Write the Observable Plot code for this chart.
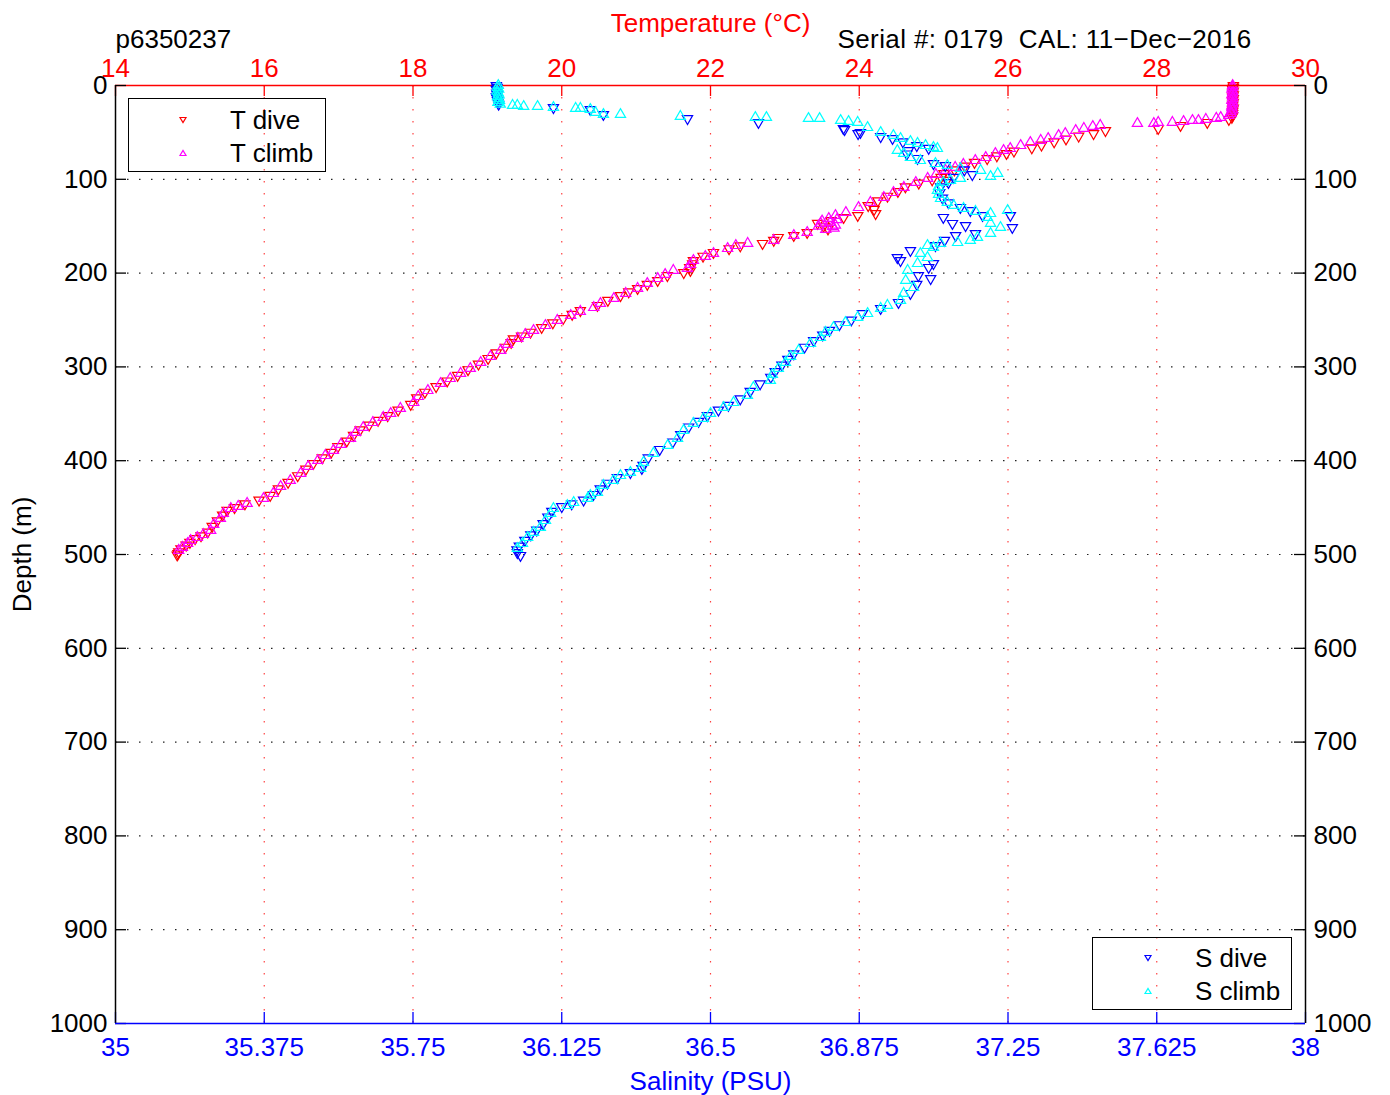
<!DOCTYPE html>
<html>
<head>
<meta charset="utf-8">
<script src="https://cdn.jsdelivr.net/npm/d3@7"></script>
<script src="https://cdn.jsdelivr.net/npm/@observablehq/plot@0.6"></script>
<style>
  html, body { margin: 0; padding: 0; background: #fff; }
  #wrap { position: relative; width: 1390px; height: 1095px; font-family: "Liberation Sans", Arial, sans-serif; }
  #wrap svg { position: absolute; left: 0; top: 0; }
  .legend { position: absolute; border: 1.5px solid #000; box-sizing: border-box; }
  .legend .lab { position: absolute; font-size: 26px; line-height: 30px; color: #000; white-space: nowrap; }
  .legend svg.mk { position: absolute; width: 12px; height: 12px; }
</style>
</head>
<body>
<div id="wrap"></div>
<script>
// ---- ticks ----
const tempTicks = [14, 16, 18, 20, 22, 24, 26, 28, 30];
const salTicks = [35, 35.375, 35.75, 36.125, 36.5, 36.875, 37.25, 37.625, 38];
const depthTicks = [0, 100, 200, 300, 400, 500, 600, 700, 800, 900, 1000];

// ---- data: [depth (m), temperature (°C)] ----
const tDive = [[0,29.03],[2,29.03],[4,29.02],[6,29.03],[8,29.02],[10,29.03],[12,29.02],[14,29.03],[16,29.02],[18,29.03],[20,29.02],[22,29.02],[24,29.03],[26,29.02],[28,29.02],[30,29.02],[32,29.02],[34,29.01],[36.2,28.97],[39.4,28.68],[42.6,28.32],[45.8,28.02],[48,27.31],[51.2,27.15],[54,26.95],[57,26.78],[60,26.62],[63.5,26.45],[66.5,26.32],[70,26.08],[72.5,25.98],[75,25.85],[78,25.72],[82,25.55],[86,25.42],[90,25.28],[94,25.14],[98,25.10],[100.5,24.98],[101,25.18],[104,24.80],[108,24.62],[113,24.52],[118,24.38],[123,24.25],[128,24.12],[132,24.20],[136.5,24.22],[138.6,23.98],[140.7,23.79],[144,23.62],[147,23.44],[150,23.52],[153,23.58],[156.7,23.30],[159.9,23.12],[162,22.91],[165,22.85],[168.4,22.70],[171,22.40],[174,22.25],[178,22.04],[182,21.90],[186.6,21.77],[190,21.76],[194,21.72],[197.2,21.73],[199.4,21.64],[202.6,21.42],[207.9,21.29],[212,21.15],[216.4,21.02],[220,20.90],[223.9,20.79],[229,20.62],[234.5,20.48],[239.9,20.25],[244,20.14],[248.4,20.02],[253,19.88],[258,19.73],[263,19.58],[267,19.46],[270,19.35],[274,19.32],[279,19.24],[285,19.12],[291,19.01],[297,18.88],[303,18.74],[309,18.60],[315,18.46],[321,18.31],[327,18.16],[333,18.05],[340,17.97],[346,17.80],[352,17.66],[357,17.53],[362,17.41],[367,17.29],[373,17.20],[379,17.11],[385,16.99],[391,16.90],[397,16.78],[403,16.66],[409,16.56],[416,16.45],[423,16.32],[430,16.19],[437,16.08],[442,15.93],[446,15.74],[450,15.60],[453,15.50],[458,15.44],[464,15.37],[470,15.30],[476,15.24],[480,15.15],[483,15.07],[487,15.00],[490,14.95],[494,14.88],[497,14.85],[499,14.84],[500.5,14.83]];

const tClimb = [[0,29.02],[2,29.02],[4,29.01],[6,29.02],[8,29.02],[10,29.01],[12,29.02],[14,29.02],[16,29.01],[18,29.02],[20,29.02],[22,29.01],[24,29.01],[26,29.02],[28,29.0],[30,29.0],[32,28.97],[34.1,28.86],[35,28.80],[36.2,28.66],[37.3,28.56],[37.3,28.48],[38.4,28.36],[39.4,28.21],[39.4,28.02],[40.5,27.96],[40.5,27.74],[42.6,27.24],[43.7,27.14],[45.8,27.02],[48,26.91],[51.2,26.77],[53.3,26.68],[56.5,26.54],[58.6,26.44],[60.8,26.30],[64,26.17],[67.2,26.03],[69.3,25.94],[72.5,25.83],[76.8,25.70],[80,25.56],[84.2,25.40],[87.4,25.29],[90.6,25.16],[94.9,25.03],[99.1,24.92],[103.4,24.76],[108.7,24.60],[114.1,24.46],[119.4,24.33],[124.7,24.15],[130.1,23.99],[135.4,23.82],[138.6,23.68],[141.8,23.59],[143,23.70],[146,23.61],[149,23.68],[150.3,23.64],[152,23.66],[153.5,23.55],[144.5,23.50],[147,23.48],[150,23.45],[156.7,23.30],[159.9,23.12],[165.2,22.85],[168.4,22.50],[170.6,22.34],[173.8,22.23],[179.1,22.04],[182.3,21.93],[186.6,21.77],[190.8,21.73],[195.1,21.69],[197.2,21.50],[201.5,21.39],[205.8,21.29],[211.1,21.15],[216.4,21.02],[221.7,20.86],[227.1,20.70],[232.4,20.52],[236.7,20.43],[240.9,20.25],[245.2,20.12],[250.5,19.94],[255.9,19.78],[261.2,19.62],[265.5,19.51],[269.7,19.41],[276.1,19.27],[282.5,19.18],[288.9,19.04],[295.3,18.91],[301.7,18.77],[307,18.64],[312.4,18.50],[317.7,18.37],[325.2,18.20],[331.6,18.07],[338,18.01],[344.3,17.83],[349.7,17.70],[353.9,17.60],[359.3,17.46],[364.6,17.33],[369.9,17.23],[376.3,17.16],[382.7,17.03],[389.1,16.93],[394.5,16.82],[399.8,16.72],[406.2,16.59],[413.6,16.49],[421.1,16.35],[427.5,16.22],[435,16.12],[440.3,15.99],[445.6,15.77],[448.8,15.65],[451,15.55],[456.3,15.45],[461.6,15.41],[468,15.32],[474.4,15.28],[478.7,15.18],[481.9,15.10],[485.1,15.01],[488.3,14.97],[492.5,14.90],[495.7,14.85]];

// ---- data: [depth (m), salinity (PSU)] ----
const sDive = [[0,35.960],[2,35.962],[4,35.960],[6,35.963],[8,35.961],[10,35.962],[12,35.960],[14,35.962],[16,35.963],[18,35.964],[20,35.966],[23.5,36.104],[25.6,36.197],[30.9,36.230],[35.2,36.442],[39.4,36.621],[45.8,36.835],[47,36.838],[50.1,36.878],[51.2,36.872],[54.4,36.929],[56.5,36.959],[60,36.985],[64,37.02],[67,37.05],[69.3,36.999],[73,36.995],[77.8,37.022],[83.2,37.062],[85.3,37.092],[90,37.14],[95,37.16],[98,37.113],[103.4,37.100],[108,37.08],[114,37.078],[120,37.085],[125,37.10],[130,37.130],[133.3,37.155],[138.6,37.186],[138.6,37.256],[140.7,37.087],[147.1,37.110],[149.3,37.143],[151.4,37.261],[157.8,37.168],[159.9,37.118],[165,37.09],[170.6,37.067],[175.9,37.004],[183.4,36.971],[186.6,36.979],[189.8,37.062],[194,37.050],[202.6,37.024],[205.8,37.055],[212,37.02],[221.7,37.004],[231.3,36.974],[237.7,36.929],[243.1,36.883],[250,36.855],[255,36.825],[261,36.800],[266,36.783],[272,36.760],[279,36.737],[286,36.710],[292,36.695],[298,36.680],[305,36.663],[311,36.652],[318,36.625],[326,36.600],[334,36.575],[341,36.545],[346,36.520],[352,36.492],[358,36.470],[364,36.445],[372,36.425],[380,36.405],[388,36.372],[397,36.343],[405,36.33],[408.3,36.327],[412.6,36.298],[418,36.265],[424,36.24],[430,36.222],[436,36.205],[442,36.18],[446,36.15],[449,36.125],[454,36.100],[460,36.09],[467,36.078],[474,36.062],[479,36.047],[485,36.032],[491,36.018],[495,36.012],[498,36.013],[501,36.021]];

const sClimb = [[0,35.965],[2,35.963],[4,35.966],[6,35.962],[8,35.965],[10,35.967],[12,35.963],[14,35.966],[16,35.968],[18,35.964],[20,35.970],[21.3,36.001],[21.3,36.013],[22.4,36.029],[22.4,36.064],[23.5,36.104],[24.5,36.160],[24.5,36.172],[25.6,36.197],[28.8,36.210],[30.9,36.230],[30.9,36.273],[33,36.424],[34.1,36.613],[34.1,36.641],[35.2,36.747],[35.2,36.775],[37.3,36.828],[38.4,36.848],[39.4,36.871],[44.8,36.896],[50.1,36.929],[53.3,36.961],[56.5,36.979],[59.7,37.004],[61.8,37.022],[64,37.042],[66.1,37.062],[67.2,37.072],[69.3,36.971],[72.5,36.987],[76.8,37.004],[80,37.029],[83.2,37.067],[85.3,37.097],[88.5,37.130],[90.6,37.181],[93.8,37.224],[97,37.206],[99.1,37.130],[101.3,37.105],[103.4,37.087],[107.7,37.075],[111.9,37.072],[116.2,37.075],[120.5,37.080],[124.7,37.097],[127.9,37.113],[131.1,37.138],[134.3,37.168],[136.5,37.206],[133.3,37.249],[140.7,37.198],[147.1,37.206],[151.4,37.231],[157.8,37.206],[162,37.173],[165.2,37.155],[167.4,37.123],[168.4,37.080],[170.6,37.047],[172.7,37.062],[179.1,37.029],[183.4,37.047],[189.8,37.022],[197.2,36.997],[207.9,36.992],[215.4,37.012],[221.7,36.987],[229.2,36.979],[234.5,36.946],[237.7,36.929],[243.1,36.896],[247.3,36.871],[252.7,36.840],[258,36.810],[263.3,36.790],[268.7,36.777],[275.1,36.752],[282.5,36.722],[288.9,36.702],[295.3,36.689],[301.7,36.671],[308.1,36.656],[314.5,36.651],[322,36.608],[330.5,36.593],[338,36.558],[343.3,36.533],[349.7,36.500],[355,36.482],[360.3,36.457],[367.8,36.432],[376.3,36.417],[383.8,36.392],[392.3,36.356],[401.9,36.331],[408.3,36.324],[412.6,36.298],[415.8,36.273],[421.1,36.255],[426.4,36.230],[433.9,36.215],[437.1,36.197],[440.3,36.190],[444.6,36.155],[447.8,36.139],[451,36.104],[456.3,36.097],[463.8,36.084],[471.2,36.071],[476.5,36.054],[481.9,36.039],[488.3,36.026],[493.6,36.013]];

// ---- layout ----
const W = 1390, H = 1095, ML = 115, MR = 85, MT = 85, MB = 72;
const FW = W - ML - MR, FH = H - MT - MB;
const FONT = "'Liberation Sans', Arial, Helvetica, sans-serif";
const TICK = 11;
const R = 3.8;
const dotted = "1.5,10.5";
const SERIAL = "Serial #: 0179  CAL: 11\u2212Dec\u22122016";

function layer(xDomain, background, marks) {
  return Plot.plot({
    width: W, height: H,
    marginLeft: ML, marginRight: MR, marginTop: MT, marginBottom: MB,
    x: {domain: xDomain, axis: null},
    y: {domain: [0, 1000], reverse: true, axis: null},
    style: {fontFamily: FONT, fontSize: "26px", background, overflow: "visible"},
    marks
  });
}

const inner = depthTicks.filter(d => d > 0 && d < 1000);

// Temperature layer (bottom)
const tPlot = layer([14, 30], "white", [
  Plot.ruleX(tempTicks.filter(t => t > 14 && t < 30), {stroke: "#ff0000", strokeOpacity: 0.75, strokeWidth: 1.2, strokeDasharray: dotted}),
  Plot.ruleY(inner, {stroke: "#222", strokeWidth: 1.2, strokeDasharray: dotted}),
  Plot.dot(tDive, {x: d => d[1], y: d => d[0], symbol: "triangle", rotate: 180, r: R, fill: "none", stroke: "#ff0000", strokeWidth: 1.2}),
  Plot.dot(tClimb, {x: d => d[1], y: d => d[0], symbol: "triangle", r: R, fill: "none", stroke: "#ff00ff", strokeWidth: 1.2}),
  Plot.tickX(tempTicks, {x: d => d, stroke: "#ff0000", strokeWidth: 1.3, insetBottom: FH - TICK}),
  Plot.ruleY([0], {stroke: "#ff0000", strokeWidth: 1.5}),
  Plot.axisX(tempTicks, {anchor: "top", tickSize: 0, tickPadding: 9, color: "#ff0000", label: null, tickFormat: d => String(d), fontSize: 26}),
  Plot.text(["Temperature (\u00B0C)"], {frameAnchor: "top", dy: -54, lineAnchor: "bottom", textAnchor: "middle", fill: "#ff0000", fontSize: 26}),
  Plot.text(["p6350237"], {frameAnchor: "top-left", dy: -38, lineAnchor: "bottom", textAnchor: "start", fill: "#000", fontSize: 26}),
  Plot.text([SERIAL], {frameAnchor: "top-left", dx: 722, dy: -38, lineAnchor: "bottom", textAnchor: "start", fill: "#000", fontSize: 26})
]);

// Salinity layer (top, transparent)
const sPlot = layer([35, 38], "transparent", [
  Plot.dot(sDive, {x: d => d[1], y: d => d[0], symbol: "triangle", rotate: 180, r: R, fill: "none", stroke: "#0000ff", strokeWidth: 1.2}),
  Plot.dot(sClimb, {x: d => d[1], y: d => d[0], symbol: "triangle", r: R, fill: "none", stroke: "#00ffff", strokeWidth: 1.2}),
  Plot.tickX(salTicks, {x: d => d, stroke: "#0000ff", strokeWidth: 1.3, insetTop: FH - TICK}),
  Plot.tickY(depthTicks, {y: d => d, stroke: "#000", strokeWidth: 1.3, insetRight: FW - TICK}),
  Plot.tickY(depthTicks, {y: d => d, stroke: "#000", strokeWidth: 1.3, insetLeft: FW - TICK}),
  Plot.ruleX([35, 38], {stroke: "#000", strokeWidth: 1.5}),
  Plot.ruleY([1000], {stroke: "#0000ff", strokeWidth: 1.5}),
  Plot.axisX(salTicks, {anchor: "bottom", tickSize: 0, tickPadding: 14, color: "#0000ff", label: null, tickFormat: d => String(d), fontSize: 26}),
  Plot.axisY(depthTicks, {anchor: "left", tickSize: 0, tickPadding: 8, color: "#000", label: null, tickFormat: d => String(d), fontSize: 26}),
  Plot.axisY(depthTicks, {anchor: "right", tickSize: 0, tickPadding: 8, color: "#000", label: null, tickFormat: d => String(d), fontSize: 26}),
  Plot.text(["Salinity (PSU)"], {frameAnchor: "bottom", dy: 66, lineAnchor: "bottom", textAnchor: "middle", fill: "#0000ff", fontSize: 26}),
  Plot.text(["Depth (m)"], {frameAnchor: "left", dx: -93, rotate: -90, lineAnchor: "middle", textAnchor: "middle", fill: "#000", fontSize: 26})
]);

const wrap = document.getElementById("wrap");
wrap.appendChild(tPlot);
wrap.appendChild(sPlot);

// slightly wider tracking on the serial line, as in the reference
tPlot.querySelectorAll("text").forEach(t => {
  if (t.textContent === SERIAL) t.setAttribute("letter-spacing", "0.4");
});

// ---- legends ----
function legend(left, top, w, h, items) {
  const box = document.createElement("div");
  box.className = "legend";
  Object.assign(box.style, {left: left + "px", top: top + "px", width: w + "px", height: h + "px"});
  for (const it of items) {
    const svgNS = "http://www.w3.org/2000/svg";
    const s = document.createElementNS(svgNS, "svg");
    s.setAttribute("class", "mk");
    s.setAttribute("viewBox", "0 0 12 12");
    s.style.left = (it.mx - 6) + "px";
    s.style.top = (it.my - 6) + "px";
    const p = document.createElementNS(svgNS, "polygon");
    p.setAttribute("points", it.down ? "3,3.5 9,3.5 6,8.5" : "3,8.5 9,8.5 6,3.5");
    p.setAttribute("fill", "none");
    p.setAttribute("stroke", it.color);
    p.setAttribute("stroke-width", "1.2");
    s.appendChild(p);
    box.appendChild(s);
    const t = document.createElement("div");
    t.className = "lab";
    t.textContent = it.label;
    t.style.left = it.tx + "px";
    t.style.top = (it.my - 15) + "px";
    box.appendChild(t);
  }
  wrap.appendChild(box);
}
legend(128, 98, 198, 74, [
  {label: "T dive", color: "#ff0000", down: true, mx: 54, my: 21, tx: 101},
  {label: "T climb", color: "#ff00ff", down: false, mx: 54, my: 54, tx: 101}
]);
legend(1092, 937, 200, 73, [
  {label: "S dive", color: "#0000ff", down: true, mx: 55, my: 20, tx: 102},
  {label: "S climb", color: "#00ffff", down: false, mx: 55, my: 53, tx: 102}
]);
</script>
</body>
</html>
